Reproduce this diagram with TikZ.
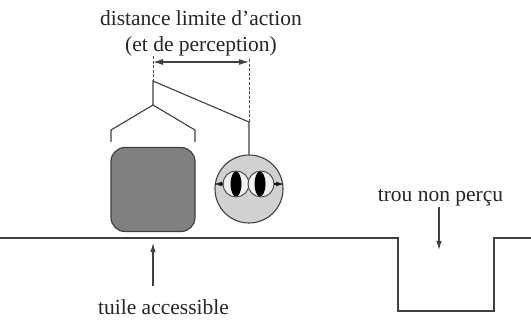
\documentclass[tikz,border=0pt]{standalone}
\usepackage{fontspec}
\setmainfont{Liberation Serif}
\usetikzlibrary{arrows.meta,shapes.geometric}
\tikzset{
  lbl/.style={inner sep=0pt,anchor=base,font=\fontsize{21.5}{26}\selectfont,text=black!85},
  ln/.style={draw=black!75,line width=1.1pt},
  dashln/.style={draw=black!70,line width=1pt,dash pattern=on 3pt off 1.6pt},
  arr/.style={ln,-{Latex[length=9pt,width=5.5pt]}},
  dbl/.style={ln,{Latex[length=10pt,width=6pt]}-{Latex[length=10pt,width=6pt]}},
  eyeball/.style={circle,draw=black!75,line width=.9pt,fill=black!6,minimum size=26pt,inner sep=0pt},
  pupil/.style={ellipse,fill=black,minimum width=11pt,minimum height=25pt,inner sep=0pt},
  stub/.style={draw=black!90,line width=1.1pt,-{Latex[length=8pt,width=5pt]}},
}
\begin{document}
\begin{tikzpicture}[x=1pt,y=-1pt]
\useasboundingbox (0,0) rectangle (531,320);
\fill[white] (0,0) rectangle (531,320);
% labels
\node[lbl] (t1) at (201,26) {distance limite d'action};
\node[lbl] (t2) at (201,52) {(et de perception)};
\node[lbl] (t3) at (440.5,202) {trou non perçu};
\node[lbl] (t4) at (163.5,314.5) {tuile accessible};
% tile
\node[draw=black!75,line width=1.2pt,fill=black!50,rounded corners=14pt,minimum size=84pt,inner sep=0pt] (tile) at (153,189.5) {};
% agent
\node[circle,draw=black!75,line width=1.1pt,fill=black!18,minimum size=68pt,inner sep=0pt] (agent) at (249,189) {};
\node[eyeball] (eyeL) at (236,184) {};
\node[eyeball] (eyeR) at (261,184) {};
\node[pupil] (pupL) at (236,184) {};
\node[pupil] (pupR) at (260,184) {};
\coordinate (tipL) at (214,184);
\coordinate (tipR) at (284,184);
\draw[stub] (eyeL.west) -- (tipL);
\draw[stub] (eyeR.east) -- (tipR);
% brace
\coordinate (a0) at (153,81);
\coordinate (apex) at (153,105);
\coordinate (bl) at (111,130);
\coordinate (br) at (195,130);
\coordinate (bl2) at (111,142);
\coordinate (br2) at (195,142);
\coordinate (b0) at (249,122);
\coordinate (dimL) at (153,62);
\coordinate (dimR) at (249,62);
\coordinate (dashLtop) at (153,56);
\coordinate (dashRtop) at (249,59);
\draw[ln] (bl2) -- (bl) -- (apex) -- (br) -- (br2);
\draw[ln] (apex) -- (a0) -- (b0) -- (agent.north);
\draw[dashln] (dashLtop) -- (a0);
\draw[dashln] (dashRtop) -- (b0);
\draw[dbl] (dimL) -- (dimR);
% ground
\coordinate (g0) at (0,238);
\coordinate (g1) at (398,238);
\coordinate (g2) at (398,311);
\coordinate (g3) at (494,311);
\coordinate (g4) at (494,238);
\coordinate (g5) at (531,238);
\draw[ln,line join=miter] (g0) -- (g1) -- (g2) -- (g3) -- (g4) -- (g5);
% arrows
\coordinate (upEnd) at (153,243);
\coordinate (upStart) at (153,286);
\draw[arr] (upStart) -- (upEnd);
\coordinate (downEnd) at (439,250);
\coordinate (downStart) at (439,207);
\draw[arr] (downStart) -- (downEnd);
\end{tikzpicture}
\end{document}
